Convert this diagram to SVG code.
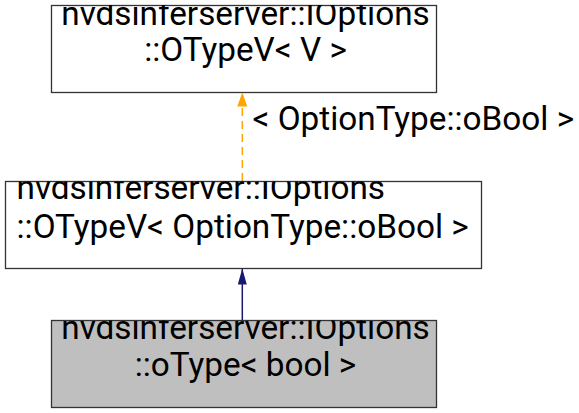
<svg xmlns="http://www.w3.org/2000/svg" width="579" height="413" viewBox="0 0 579 413">
<style>
.box{stroke:#333333;stroke-width:1.3}
.t{font-family:Roboto,"Liberation Sans",sans-serif;font-size:33.3px;fill:#000000}
.c{text-anchor:middle}
</style>
<defs>
<clipPath id="c1"><rect x="51.5" y="5" width="385" height="88"/></clipPath>
<clipPath id="c2"><rect x="5.5" y="181.5" width="476" height="87"/></clipPath>
<clipPath id="c3"><rect x="51.5" y="320.5" width="385" height="87"/></clipPath>
<marker id="aOrange" markerWidth="14" markerHeight="10" refX="14" refY="5" orient="auto" markerUnits="userSpaceOnUse" viewBox="0 0 14 10"><path d="M0,0 L14,5 L0,10 Z" fill="#ffa500"/></marker>
<marker id="aNavy" markerWidth="16" markerHeight="9" refX="16" refY="4.5" orient="auto" markerUnits="userSpaceOnUse" viewBox="0 0 16 9"><path d="M0,0 L16,4.5 L0,9 Z" fill="#191970"/></marker>
</defs>
<g id="connectors">
<path d="M242.3,181 L242.3,92.5" fill="none" stroke="#ffa500" stroke-width="1.5" stroke-dasharray="8,5" marker-end="url(#aOrange)"/>
<path d="M242.3,320 L242.3,268.5" fill="none" stroke="#191970" stroke-width="1.5" marker-end="url(#aNavy)"/>
<text class="t" x="252.5" y="130">&lt; OptionType::oBool &gt;</text>
</g>
<g id="node-otypev-v">
<rect class="box" x="51.5" y="5.5" width="385" height="87" fill="#ffffff"/>
<g clip-path="url(#c1)">
<text class="t c" x="245.5" y="24.5">nvdsinferserver::IOptions</text>
<text class="t c" x="245.5" y="61">::OTypeV&lt; V &gt;</text>
</g>
</g>
<g id="node-otypev-obool">
<rect class="box" x="5.5" y="181.5" width="476" height="87" fill="#ffffff"/>
<g clip-path="url(#c2)">
<text class="t" x="16.5" y="198.5">nvdsinferserver::IOptions</text>
<text class="t" x="16.5" y="237.5">::OTypeV&lt; OptionType::oBool &gt;</text>
</g>
</g>
<g id="node-otype-bool">
<rect class="box" x="51.5" y="320.5" width="385" height="87" fill="#bfbfbf"/>
<g clip-path="url(#c3)">
<text class="t c" x="245.5" y="338.8">nvdsinferserver::IOptions</text>
<text class="t c" x="245.5" y="376">::oType&lt; bool &gt;</text>
</g>
</g>
</svg>
